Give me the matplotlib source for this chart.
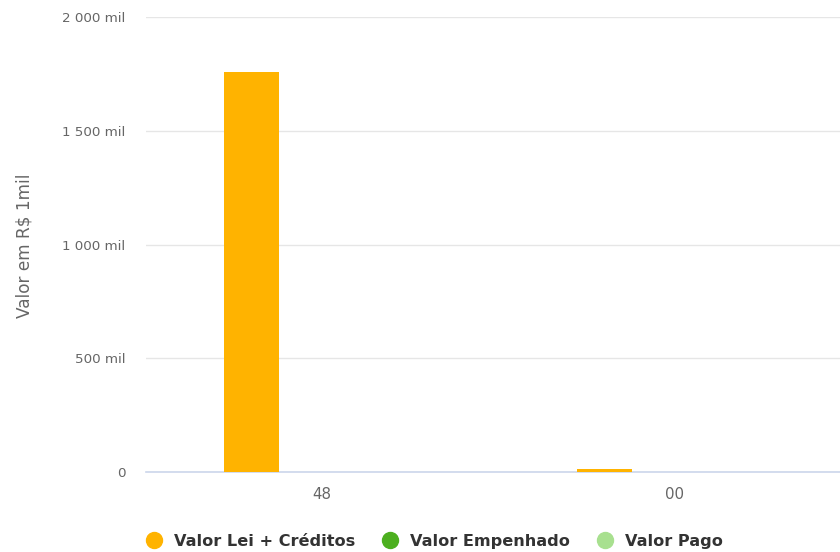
import matplotlib
matplotlib.use("Agg")
import matplotlib.pyplot as plt
from matplotlib.lines import Line2D
from matplotlib.ticker import FuncFormatter
import numpy as np

categories = ["48", "00"]
series_names = ["Valor Lei + Créditos", "Valor Empenhado", "Valor Pago"]
valor_lei = [1758, 12]
valor_empenhado = [0, 0]
valor_pago = [0, 0]
colors = ["#FFB300", "#4CAF1F", "#A8E08F"]
yticks = [0, 500, 1000, 1500, 2000]

plt.rcParams['font.family'] = ['DejaVu Sans']
fig = plt.figure(figsize=(8.4, 5.52), dpi=100)
ax = fig.add_axes([145.5/840, 1-472/552, 706/840, 455/552])

x = np.arange(len(categories))
offsets = [-0.2, 0.0, 0.2]
width = 0.157
for vals, off, col in zip([valor_lei, valor_empenhado, valor_pago], offsets, colors):
    ax.bar(x + off, vals, width=width, color=col, zorder=3)

ax.set_xlim(-0.5, 1.5)
ax.set_ylim(0, 2000)
ax.set_yticks(yticks)
ax.yaxis.set_major_formatter(FuncFormatter(lambda v, p: "0" if v == 0 else f"{int(v):,}".replace(",", " ") + " mil"))
ax.set_xticks(x)
ax.set_xticklabels(categories)
ax.grid(axis='y', color='#e6e6e6', linewidth=1, zorder=0)
for s in ['top', 'right', 'left']:
    ax.spines[s].set_visible(False)
ax.spines['bottom'].set_color('#ccd6eb')
ax.spines['bottom'].set_linewidth(1.2)
ax.tick_params(axis='y', length=0, pad=14.4, labelsize=9.7, labelcolor='#666666')
ax.tick_params(axis='x', length=0, pad=11, labelsize=10.8, labelcolor='#666666')
ax.set_ylabel("Valor em R$ 1mil", fontsize=12.2, color='#666666')
ax.yaxis.set_label_coords((34 - 145.5) / 706, (472 - 245.5) / 455)

handles = [Line2D([], [], marker='o', linestyle='', markersize=11.5, color=c) for c in colors]
leg = fig.legend(handles, series_names, loc='center', bbox_to_anchor=(430.5/840, 1-541.5/552),
                 ncol=3, frameon=False, handletextpad=0.25, columnspacing=1.15,
                 prop={'weight': 'bold', 'size': 11.6})
for t in leg.get_texts():
    t.set_color('#333333')

fig.savefig("out.png", dpi=100)
